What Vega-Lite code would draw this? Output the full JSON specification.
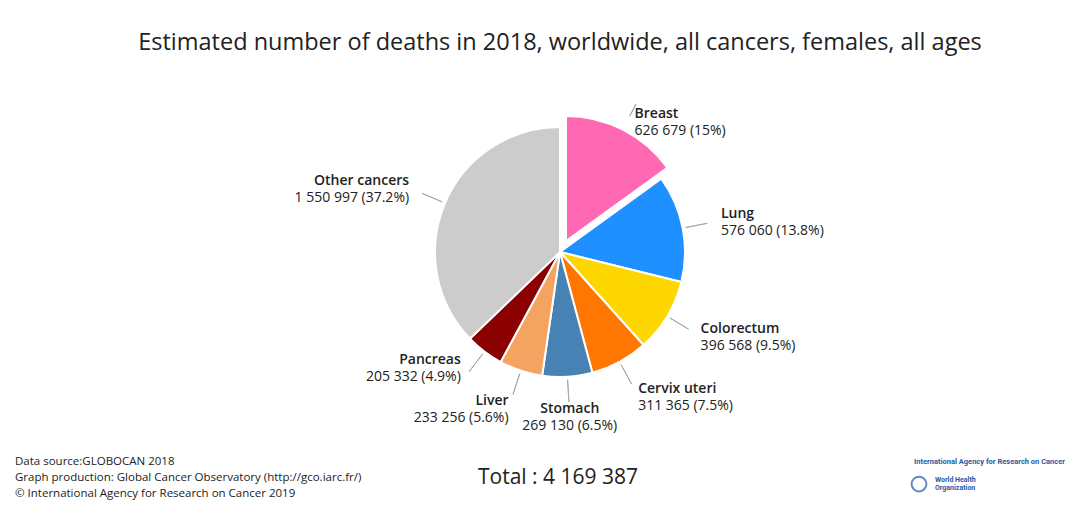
{
  "$schema": "https://vega.github.io/schema/vega-lite/v6.json",
  "padding": {"left": 15, "top": 30, "right": 0, "bottom": 0},
  "background": "white",
  "config": {"view": {"stroke": null}, "font": "Open Sans"},
  "bounds": "flush",
  "spacing": 22,
  "vconcat": [
    {
      "width": 1050,
      "height": 376,
      "title": {
        "text": "Estimated number of deaths in 2018, worldwide, all cancers, females, all ages",
        "fontSize": 23.5,
        "font": "Open Sans",
        "fontWeight": "normal",
        "color": "#222222",
        "anchor": "middle",
        "dx": 20,
        "offset": 10
      },
      "data": {
        "values": [
          {"rank": 1, "cancer": "Breast", "deaths": 626679, "label": "626 679 (15%)"},
          {"rank": 2, "cancer": "Lung", "deaths": 576060, "label": "576 060 (13.8%)"},
          {"rank": 3, "cancer": "Colorectum", "deaths": 396568, "label": "396 568 (9.5%)"},
          {"rank": 4, "cancer": "Cervix uteri", "deaths": 311365, "label": "311 365 (7.5%)"},
          {"rank": 5, "cancer": "Stomach", "deaths": 269130, "label": "269 130 (6.5%)"},
          {"rank": 6, "cancer": "Liver", "deaths": 233256, "label": "233 256 (5.6%)"},
          {"rank": 7, "cancer": "Pancreas", "deaths": 205332, "label": "205 332 (4.9%)"},
          {"rank": 8, "cancer": "Other cancers", "deaths": 1550997, "label": "1 550 997 (37.2%)"}
        ]
      },
      "encoding": {
        "theta": {"field": "deaths", "type": "quantitative", "stack": true},
        "order": {"field": "rank", "type": "quantitative"}
      },
      "layer": [
        {
          "mark": {"type": "arc", "radius": 125, "stroke": "white", "strokeWidth": 2, "xOffset": 20},
          "encoding": {
            "color": {
              "field": "cancer", "type": "nominal", "legend": null,
              "scale": {
                "domain": ["Breast", "Lung", "Colorectum", "Cervix uteri", "Stomach", "Liver", "Pancreas", "Other cancers"],
                "range": ["#ff69b4", "#1e90ff", "#ffd700", "#ff7700", "#4682b4", "#f4a460", "#8b0000", "#cccccc"]
              }
            },
            "opacity": {"condition": {"test": "datum.cancer === 'Breast'", "value": 0}, "value": 1}
          }
        },
        {
          "mark": {"type": "arc", "radius": 125, "stroke": "white", "strokeWidth": 2, "xOffset": 26, "yOffset": -11},
          "encoding": {
            "color": {"field": "cancer", "type": "nominal", "legend": null},
            "opacity": {"condition": {"test": "datum.cancer === 'Breast'", "value": 1}, "value": 0}
          }
        },
        {
          "mark": {"type": "arc", "radius": 150, "radius2": 128, "padAngle": 3, "fillOpacity": 0, "stroke": "#a8a8a8", "strokeWidth": 1, "xOffset": 20},
          "encoding": {
            "detail": {"field": "cancer"},
            "strokeOpacity": {"condition": {"test": "datum.cancer === 'Breast'", "value": 0}, "value": 1}
          }
        },
        {
          "mark": {"type": "arc", "radius": 154, "radius2": 140, "padAngle": 3, "fillOpacity": 0, "stroke": "#a8a8a8", "strokeWidth": 1, "xOffset": 26, "yOffset": -11},
          "encoding": {
            "detail": {"field": "cancer"},
            "strokeOpacity": {"condition": {"test": "datum.cancer === 'Breast'", "value": 1}, "value": 0}
          }
        },
        {
          "mark": {
            "type": "text", "radius": 164, "xOffset": 20, "font": "Open Sans", "fontSize": 14, "fontWeight": 600, "color": "#222222", "baseline": "alphabetic",
            "align": {"expr": "datum.cancer === 'Stomach' ? 'center' : (indexof(['Liver','Pancreas','Other cancers'], datum.cancer) >= 0 ? 'right' : 'left')"},
            "dy": {"expr": "datum.cancer === 'Breast' ? 12 : (datum.cancer === 'Pancreas' ? -19 : -3)"}
          },
          "encoding": {"text": {"field": "cancer"}, "detail": {"field": "cancer"}}
        },
        {
          "mark": {
            "type": "text", "radius": 164, "xOffset": 20, "font": "Open Sans", "fontSize": 14, "fontWeight": "normal", "color": "#222222", "baseline": "alphabetic",
            "align": {"expr": "datum.cancer === 'Stomach' ? 'center' : (indexof(['Liver','Pancreas','Other cancers'], datum.cancer) >= 0 ? 'right' : 'left')"},
            "dy": {"expr": "datum.cancer === 'Breast' ? 29 : (datum.cancer === 'Pancreas' ? -2 : 14)"}
          },
          "encoding": {"text": {"field": "label"}, "detail": {"field": "cancer"}}
        }
      ]
    },
    {
      "width": 1050,
      "height": 32,
      "data": {
        "values": [
          {"part": "source", "role": "source", "line": 1, "text": "Data source:GLOBOCAN 2018"},
          {"part": "source", "role": "source", "line": 2, "text": "Graph production: Global Cancer Observatory (http://gco.iarc.fr/)"},
          {"part": "source", "role": "source", "line": 3, "text": "© International Agency for Research on Cancer 2019"},
          {"part": "total", "role": "total", "line": 2, "text": "Total : 4 169 387"},
          {"part": "logo", "role": "iarc", "line": 1, "text": "International Agency for Research on Cancer"},
          {"part": "logo", "role": "who", "line": 2.15, "text": "World Health"},
          {"part": "logo", "role": "who", "line": 2.6, "text": "Organization"},
          {"part": "logo", "role": "emblem", "line": 2.38, "text": ""}
        ]
      },
      "encoding": {
        "x": {"field": "part", "type": "nominal", "axis": null, "scale": {"type": "point", "domain": ["source", "total", "logo"], "padding": 0}},
        "y": {"field": "line", "type": "quantitative", "axis": null, "scale": {"domain": [1, 3], "reverse": true, "zero": false, "nice": false}},
        "text": {"field": "text"}
      },
      "layer": [
        {
          "transform": [{"filter": "datum.role === 'source'"}],
          "mark": {"type": "text", "align": "left", "baseline": "middle", "fontSize": 11.5, "font": "Open Sans", "color": "#222222"}
        },
        {
          "transform": [{"filter": "datum.role === 'total'"}],
          "mark": {"type": "text", "align": "center", "baseline": "middle", "fontSize": 21, "font": "Open Sans", "color": "#222222", "dx": 18}
        },
        {
          "transform": [{"filter": "datum.role === 'iarc'"}],
          "mark": {"type": "text", "align": "right", "baseline": "middle", "fontSize": 7.5, "font": "Roboto", "fontWeight": "bold", "color": "#1f5aa6"}
        },
        {
          "transform": [{"filter": "datum.role === 'who'"}],
          "mark": {"type": "text", "align": "left", "baseline": "middle", "fontSize": 7, "font": "Roboto", "fontWeight": "bold", "color": "#1f5aa6", "dx": -130}
        },
        {
          "transform": [{"filter": "datum.role === 'emblem'"}],
          "mark": {"type": "point", "shape": "circle", "size": 220, "filled": false, "stroke": "#1f5aa6", "strokeWidth": 2, "xOffset": -146}
        }
      ]
    }
  ]
}
